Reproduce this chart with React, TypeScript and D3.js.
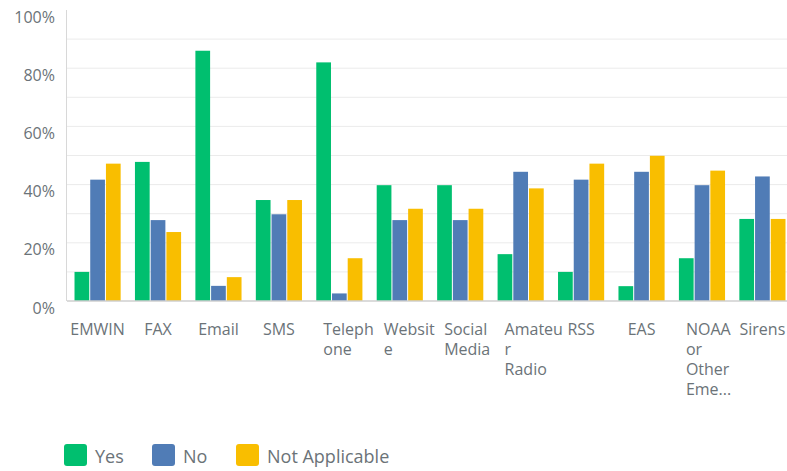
import React from "react";
import * as d3 from "d3";

const categories = ["EMWIN", "FAX", "Email", "SMS", "Telephone", "Website", "Social Media", "Amateur Radio", "RSS", "EAS", "NOAA or Other Eme...", "Sirens"];
const categoryLines = [["EMWIN"], ["FAX"], ["Email"], ["SMS"], ["Teleph", "one"], ["Websit", "e"], ["Social", "Media"], ["Amateu", "r", "Radio"], ["RSS"], ["EAS"], ["NOAA", "or", "Other", "Eme..."], ["Sirens"]];
const seriesNames = ["Yes", "No", "Not Applicable"];
const yesValues = [10, 47.8, 86, 34.7, 82, 39.8, 39.8, 16.1, 10, 5.1, 14.7, 28.2];
const noValues = [41.7, 27.8, 5.2, 29.8, 2.6, 27.8, 27.8, 44.4, 41.7, 44.4, 39.8, 42.8];
const naValues = [47.2, 23.7, 8.2, 34.7, 14.7, 31.7, 31.7, 38.7, 47.2, 49.9, 44.8, 28.2];
const yTicks = [0, 20, 40, 60, 80, 100];
const gridTicks = [10, 20, 30, 40, 50, 60, 70, 80, 90];
const colors = ["#00bf6f", "#507cb6", "#f9be00"];

const W = 787;
const H = 471;
const FONT = "'Open Sans', sans-serif";
const TEXT = "#6b7378";

export default function App() {
  const series = [yesValues, noValues, naValues];
  const x0 = d3.scaleBand<string>().domain(categories).range([67, 793]).paddingInner(0.22).paddingOuter(0.116);
  const x1 = d3.scaleBand<string>().domain(seriesNames).range([0, x0.bandwidth()]).padding(0);
  const y = d3.scaleLinear().domain([0, 100]).range([301, 10]);

  const legendX = [64, 152, 236];

  return (
    <svg width={W} height={H} style={{ position: "absolute", left: 0, top: 0, background: "#fff" }} fontFamily={FONT}>
      {gridTicks.map((t) => (
        <line key={"g" + t} x1={67} x2={W} y1={y(t)} y2={y(t)} stroke="#ebebeb" strokeWidth={1} />
      ))}
      <line x1={66.5} x2={66.5} y1={y(100)} y2={y(0)} stroke="#d8d8d8" strokeWidth={1} />
      {yTicks.map((t) => (
        <text key={"yt" + t} x={55} y={y(t) + 6.5} textAnchor="end" dominantBaseline="central" fontSize={16} fill={TEXT}>
          {t}%
        </text>
      ))}
      {categories.map((c, i) => (
        <g key={c}>
          {series.map((vals, s) => (
            <rect
              key={s}
              x={(x0(c) as number) + (x1(seriesNames[s]) as number) + 0.5}
              y={y(vals[i])}
              width={x1.bandwidth() - 1}
              height={y(0) - y(vals[i])}
              fill={colors[s]}
            />
          ))}
        </g>
      ))}
      <line x1={67} x2={W} y1={301} y2={301} stroke="#cfcfcf" strokeWidth={1.5} />
      {categories.map((c, i) => {
        const lines = categoryLines[i];
        const start = x0(c) as number;
        const center = start + x0.bandwidth() / 2;
        const multi = lines.length > 1;
        return (
          <text
            key={"xl" + c}
            x={multi ? start + 7.5 : center}
            textAnchor={multi ? "start" : "middle"}
            fontSize={16}
            fill={TEXT}
            dominantBaseline="central"
          >
            {lines.map((ln, k) => (
              <tspan key={k} x={multi ? start + 7.5 : center} y={329 + k * 20}>
                {ln}
              </tspan>
            ))}
          </text>
        );
      })}
      {seriesNames.map((n, s) => (
        <g key={"lg" + n}>
          <rect x={legendX[s]} y={444} width={23} height={22} rx={3} fill={colors[s]} />
          <text x={legendX[s] + 31} y={456} dominantBaseline="central" fontSize={18} fill={TEXT}>
            {n}
          </text>
        </g>
      ))}
    </svg>
  );
}
